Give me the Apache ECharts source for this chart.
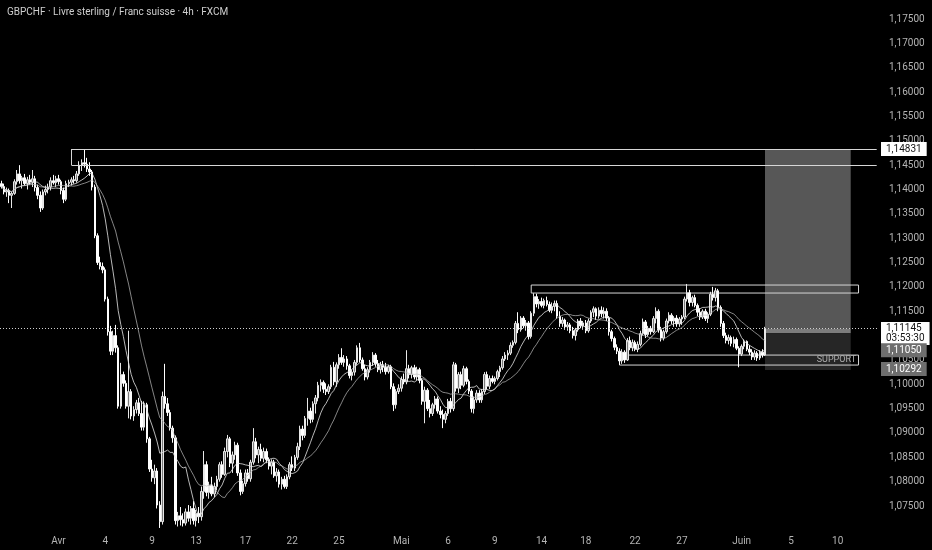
<!DOCTYPE html>
<html>
<head>
<meta charset="utf-8">
<script src="https://cdn.jsdelivr.net/npm/echarts@6/dist/echarts.min.js"></script>
<style>
html,body{margin:0;padding:0;background:#000;}
#chart{width:932px;height:550px;}
</style>
</head>
<body>
<div id="chart"></div>
<script>
// ---- data (GBPCHF 4h) ----
const opens = [
1.1412,1.1406,1.1395,1.1398,1.1388,1.1392,1.1416,1.1432,1.1418,1.1424,
1.1412,1.1420,1.1415,1.1422,1.1404,1.1388,1.1362,1.1395,1.1400,1.1405,
1.1418,1.1414,1.1422,1.1416,1.1398,1.1380,1.1412,1.1415,1.1420,1.1418,
1.1432,1.1450,1.1455,1.1452,1.1442,1.1436,1.1405,1.1305,1.1250,1.1242,
1.1235,1.1175,1.1108,1.1068,1.1100,1.1075,1.0955,1.1020,1.1002,1.0955,
1.0985,1.0935,1.0948,1.0962,1.0940,1.0912,1.0958,1.0888,1.0826,1.0808,
1.0822,1.0752,1.0718,1.0975,1.0960,1.0942,1.0910,1.0890,1.0720,1.0730,
1.0722,1.0715,1.0738,1.0725,1.0745,1.0720,1.0735,1.0728,1.0780,1.0835,
1.0778,1.0792,1.0775,1.0790,1.0805,1.0835,1.0815,1.0862,1.0888,1.0838,
1.0855,1.0875,1.0818,1.0780,1.0796,1.0818,1.0806,1.0840,1.0882,1.0855,
1.0866,1.0848,1.0862,1.0845,1.0832,1.0840,1.0812,1.0820,1.0795,1.0805,
1.0790,1.0810,1.0835,1.0828,1.0850,1.0872,1.0908,1.0895,1.0930,1.0945,
1.0928,1.0960,1.0972,1.0998,1.1004,1.0990,1.0985,1.0995,1.1035,1.1005,
1.1040,1.1055,1.1045,1.1052,1.1038,1.1018,1.1025,1.1045,1.1075,1.1050,
1.1032,1.1015,1.1030,1.1045,1.1060,1.1042,1.1030,1.1040,1.1035,1.1026,
1.1036,1.0995,1.0958,1.0985,1.0992,1.1010,1.1005,1.1032,1.1020,1.1034,
1.1015,1.1030,1.1008,1.0965,1.0988,1.0950,1.0940,1.0958,1.0970,1.0945,
1.0938,1.0928,1.0940,1.0965,1.0950,1.1040,1.0992,1.1020,1.0998,1.1032,
1.1006,1.0986,1.0950,1.0968,1.0982,1.0968,1.0985,1.1020,1.0996,1.1012,
1.1006,1.1012,1.1026,1.1034,1.1052,1.1060,1.1064,1.1080,1.1086,1.1125,
1.1112,1.1136,1.1120,1.1126,1.1098,1.1146,1.1180,1.1165,1.1170,1.1162,
1.1172,1.1164,1.1152,1.1160,1.1166,1.1140,1.1125,1.1132,1.1118,1.1122,
1.1110,1.1100,1.1112,1.1130,1.1120,1.1126,1.1110,1.1130,1.1148,1.1155,
1.1140,1.1152,1.1145,1.1150,1.1136,1.1108,1.1094,1.1076,1.1068,1.1048,
1.1066,1.1050,1.1090,1.1075,1.1086,1.1072,1.1082,1.1104,1.1128,1.1102,
1.1115,1.1108,1.1135,1.1150,1.1112,1.1095,1.1108,1.1130,1.1142,1.1130,
1.1136,1.1124,1.1134,1.1138,1.1175,1.1188,1.1168,1.1178,1.1162,1.1148,
1.1138,1.1150,1.1135,1.1144,1.1185,1.1178,1.1192,1.1158,1.1125,1.1100,
1.1090,1.1096,1.1084,1.1092,1.1074,1.1062,1.1078,1.1088,1.1072,1.1066,
1.1056,1.1064,1.1054,1.1066,1.1060
];
const closes = [
1.1406,1.1395,1.1398,1.1388,1.1392,1.1416,1.1432,1.1418,1.1424,1.1412,
1.1420,1.1415,1.1422,1.1404,1.1388,1.1362,1.1395,1.1400,1.1405,1.1418,
1.1414,1.1422,1.1416,1.1398,1.1380,1.1412,1.1415,1.1420,1.1418,1.1432,
1.1450,1.1455,1.1452,1.1442,1.1436,1.1405,1.1305,1.1250,1.1242,1.1235,
1.1175,1.1108,1.1068,1.1100,1.1075,1.0955,1.1020,1.1002,1.0955,1.0985,
1.0935,1.0948,1.0962,1.0940,1.0912,1.0958,1.0888,1.0826,1.0808,1.0822,
1.0752,1.0718,1.0975,1.0960,1.0942,1.0910,1.0890,1.0720,1.0730,1.0722,
1.0715,1.0738,1.0725,1.0745,1.0720,1.0735,1.0728,1.0780,1.0835,1.0778,
1.0792,1.0775,1.0790,1.0805,1.0835,1.0815,1.0862,1.0888,1.0838,1.0855,
1.0875,1.0818,1.0780,1.0796,1.0818,1.0806,1.0840,1.0882,1.0855,1.0866,
1.0848,1.0862,1.0845,1.0832,1.0840,1.0812,1.0820,1.0795,1.0805,1.0790,
1.0810,1.0835,1.0828,1.0850,1.0872,1.0908,1.0895,1.0930,1.0945,1.0928,
1.0960,1.0972,1.0998,1.1004,1.0990,1.0985,1.0995,1.1035,1.1005,1.1040,
1.1055,1.1045,1.1052,1.1038,1.1018,1.1025,1.1045,1.1075,1.1050,1.1032,
1.1015,1.1030,1.1045,1.1060,1.1042,1.1030,1.1040,1.1035,1.1026,1.1036,
1.0995,1.0958,1.0985,1.0992,1.1010,1.1005,1.1032,1.1020,1.1034,1.1015,
1.1030,1.1008,1.0965,1.0988,1.0950,1.0940,1.0958,1.0970,1.0945,1.0938,
1.0928,1.0940,1.0965,1.0950,1.1040,1.0992,1.1020,1.0998,1.1032,1.1006,
1.0986,1.0950,1.0968,1.0982,1.0968,1.0985,1.1020,1.0996,1.1012,1.1006,
1.1012,1.1026,1.1034,1.1052,1.1060,1.1064,1.1080,1.1086,1.1125,1.1112,
1.1136,1.1120,1.1126,1.1098,1.1146,1.1180,1.1165,1.1170,1.1162,1.1172,
1.1164,1.1152,1.1160,1.1166,1.1140,1.1125,1.1132,1.1118,1.1122,1.1110,
1.1100,1.1112,1.1130,1.1120,1.1126,1.1110,1.1130,1.1148,1.1155,1.1140,
1.1152,1.1145,1.1150,1.1136,1.1108,1.1094,1.1076,1.1068,1.1048,1.1066,
1.1050,1.1090,1.1075,1.1086,1.1072,1.1082,1.1104,1.1128,1.1102,1.1115,
1.1108,1.1135,1.1150,1.1112,1.1095,1.1108,1.1130,1.1142,1.1130,1.1136,
1.1124,1.1134,1.1138,1.1175,1.1188,1.1168,1.1178,1.1162,1.1148,1.1138,
1.1150,1.1135,1.1144,1.1185,1.1178,1.1192,1.1158,1.1125,1.1100,1.1090,
1.1096,1.1084,1.1092,1.1074,1.1062,1.1078,1.1088,1.1072,1.1066,1.1056,
1.1064,1.1054,1.1066,1.1060,1.11145
];
const highs = [
1.1418,1.1412,1.1404,1.1402,1.1395,1.1421,1.1440,1.1450,1.1428,1.1432,
1.1426,1.1430,1.1440,1.1428,1.1410,1.1396,1.1400,1.1408,1.1412,1.1425,
1.1430,1.1428,1.1430,1.1420,1.1404,1.1418,1.1420,1.1425,1.1428,1.1438,
1.1458,1.1462,1.1483,1.1465,1.1456,1.1440,1.1410,1.1310,1.1262,1.1250,
1.1240,1.1180,1.1120,1.1110,1.1122,1.1080,1.1044,1.1026,1.1008,1.1110,
1.0990,1.0955,1.0968,1.0972,1.0966,1.0965,1.0962,1.0892,1.0845,1.0835,
1.0828,1.0760,1.0985,1.1042,1.0972,1.0948,1.0915,1.0895,1.0738,1.0748,
1.0735,1.0745,1.0752,1.0750,1.0760,1.0742,1.0748,1.0790,1.0863,1.0842,
1.0800,1.0810,1.0798,1.0812,1.0840,1.0842,1.0870,1.0896,1.0892,1.0862,
1.0882,1.0880,1.0825,1.0802,1.0825,1.0826,1.0845,1.0910,1.0890,1.0872,
1.0878,1.0870,1.0868,1.0850,1.0846,1.0845,1.0828,1.0825,1.0810,1.0812,
1.0815,1.0840,1.0852,1.0855,1.0880,1.0915,1.0915,1.0935,1.0972,1.0952,
1.0965,1.0978,1.1005,1.1010,1.1008,1.1002,1.1000,1.1040,1.1046,1.1045,
1.1062,1.1074,1.1060,1.1058,1.1042,1.1030,1.1050,1.1080,1.1085,1.1055,
1.1040,1.1035,1.1050,1.1066,1.1064,1.1050,1.1046,1.1048,1.1044,1.1040,
1.1040,1.1002,1.0990,1.1000,1.1016,1.1022,1.1070,1.1040,1.1038,1.1040,
1.1036,1.1034,1.1012,1.0995,1.0992,1.0968,1.0962,1.0976,1.0975,1.0955,
1.0948,1.0945,1.0970,1.0972,1.1046,1.1044,1.1025,1.1026,1.1038,1.1036,
1.1010,1.0990,1.0975,1.0988,1.0988,1.0990,1.1025,1.1026,1.1018,1.1018,
1.1016,1.1030,1.1038,1.1058,1.1066,1.1070,1.1086,1.1090,1.1130,1.1148,
1.1140,1.1140,1.1132,1.1130,1.1150,1.1187,1.1186,1.1175,1.1178,1.1176,
1.1180,1.1170,1.1168,1.1172,1.1172,1.1150,1.1138,1.1135,1.1128,1.1126,
1.1118,1.1116,1.1134,1.1136,1.1130,1.1132,1.1135,1.1152,1.1160,1.1158,
1.1158,1.1160,1.1158,1.1156,1.1140,1.1112,1.1098,1.1082,1.1074,1.1072,
1.1070,1.1095,1.1098,1.1092,1.1090,1.1088,1.1110,1.1135,1.1132,1.1120,
1.1120,1.1140,1.1158,1.1154,1.1118,1.1112,1.1135,1.1148,1.1146,1.1140,
1.1142,1.1138,1.1142,1.1180,1.1206,1.1194,1.1182,1.1184,1.1166,1.1156,
1.1154,1.1155,1.1148,1.1190,1.1200,1.1198,1.1196,1.1162,1.1130,1.1106,
1.1102,1.1100,1.1098,1.1096,1.1078,1.1082,1.1092,1.1090,1.1080,1.1072,
1.1070,1.1068,1.1070,1.1072,1.1118
];
const lows = [
1.1402,1.1390,1.1385,1.1372,1.1362,1.1389,1.1410,1.1412,1.1402,1.1408,
1.1400,1.1410,1.1405,1.1396,1.1380,1.1354,1.1358,1.1388,1.1392,1.1398,
1.1410,1.1405,1.1410,1.1390,1.1372,1.1376,1.1405,1.1408,1.1412,1.1414,
1.1428,1.1438,1.1445,1.1436,1.1428,1.1398,1.1300,1.1245,1.1236,1.1228,
1.1170,1.1100,1.1060,1.1060,1.1065,1.0950,1.0950,1.0995,1.0950,1.0930,
1.0928,1.0925,1.0940,1.0935,1.0905,1.0905,1.0880,1.0820,1.0800,1.0795,
1.0745,1.0705,1.0712,1.0950,1.0935,1.0905,1.0880,1.0712,1.0708,1.0710,
1.0708,1.0710,1.0718,1.0712,1.0712,1.0708,1.0715,1.0720,1.0765,1.0770,
1.0765,1.0770,1.0768,1.0782,1.0800,1.0808,1.0812,1.0850,1.0830,1.0818,
1.0845,1.0812,1.0772,1.0775,1.0790,1.0800,1.0800,1.0835,1.0848,1.0838,
1.0842,1.0840,1.0838,1.0825,1.0815,1.0808,1.0800,1.0788,1.0784,1.0786,
1.0785,1.0805,1.0822,1.0822,1.0845,1.0865,1.0885,1.0890,1.0915,1.0920,
1.0922,1.0940,1.0965,1.0985,1.0982,1.0978,1.0980,1.0990,1.0998,1.0995,
1.1032,1.1040,1.1036,1.1030,1.1012,1.1008,1.1018,1.1040,1.1045,1.1028,
1.1008,1.1010,1.1024,1.1038,1.1036,1.1025,1.1022,1.1025,1.1020,1.1022,
1.0990,1.0945,1.0950,1.0980,1.0985,1.1000,1.1000,1.1012,1.1012,1.1010,
1.1008,1.1002,1.0958,1.0920,1.0945,1.0932,1.0935,1.0950,1.0940,1.0930,
1.0910,1.0920,1.0935,1.0942,1.0945,1.0985,1.0982,1.0990,1.0994,1.1000,
1.0980,1.0942,1.0940,1.0962,1.0962,1.0962,1.0980,1.0990,1.0990,1.1002,
1.1000,1.1008,1.1015,1.1030,1.1048,1.1050,1.1060,1.1075,1.1082,1.1105,
1.1108,1.1115,1.1110,1.1092,1.1094,1.1140,1.1158,1.1155,1.1158,1.1156,
1.1160,1.1148,1.1146,1.1150,1.1135,1.1118,1.1118,1.1112,1.1110,1.1105,
1.1094,1.1090,1.1108,1.1115,1.1112,1.1105,1.1106,1.1126,1.1138,1.1132,
1.1135,1.1138,1.1135,1.1130,1.1100,1.1088,1.1070,1.1062,1.1040,1.1042,
1.1044,1.1048,1.1070,1.1068,1.1068,1.1066,1.1078,1.1100,1.1095,1.1098,
1.1102,1.1105,1.1125,1.1106,1.1088,1.1090,1.1104,1.1125,1.1124,1.1118,
1.1118,1.1118,1.1122,1.1134,1.1170,1.1160,1.1160,1.1158,1.1140,1.1132,
1.1134,1.1130,1.1126,1.1140,1.1172,1.1170,1.1150,1.1118,1.1095,1.1084,
1.1082,1.1078,1.1076,1.1070,1.1035,1.1058,1.1072,1.1068,1.1060,1.1050,
1.1050,1.1048,1.1050,1.1055,1.1058
];
// time-axis tick labels and their bar positions
const timeTickBars = [22, 40, 58, 75, 94, 112, 130, 154, 172, 190, 208, 225, 244, 262, 285, 304, 322];
const timeTickLabels = ['Avr','4','9','13','17','22','25','Mai','6','9','14','18','22','27','Juin','5','10'];
const barSlots = 338; // bars plus empty future space
// drawing levels
const boxTop = [1.14831, 1.14502];      // upper supply zone
const boxResistance = [1.12038, 1.11874];
const boxSupport = [1.10600, 1.10395];
const targetPrice = 1.14831;
const entryPrice = 1.11050;
const stopPrice = 1.10292;
const lastPrice = 1.11145;
const countdown = '03:53:30';
const maPeriods = [10, 20];

// ---- build ----
const categories = [];
for (let i = 0; i < barSlots; i++) categories.push(String(i));
const ohlc = opens.map((o, i) => [o, closes[i], lows[i], highs[i]]);
function sma(n) {
  const out = [];
  for (let i = 0; i < closes.length; i++) {
    const s = Math.max(0, i - n + 1);
    let sum = 0;
    for (let j = s; j <= i; j++) sum += closes[j];
    out.push(+(sum / (i - s + 1)).toFixed(5));
  }
  return out;
}
const fmt = v => v.toFixed(5).replace('.', ',');
const lastBar = String(closes.length - 1);
const endSlot = String(barSlots - 1);
const FONT = 'Roboto, "Noto Sans", sans-serif';
const BOX = '#d6d6d6';

const chart = echarts.init(document.getElementById('chart'), null, {renderer: 'canvas'});
const priceTag = (price, text, bg, fg, dy) => ({
  yAxis: price, lineStyle: {color: 'rgba(0,0,0,0)', width: 0},
  label: {show: true, position: 'end', distance: 3, formatter: text, backgroundColor: bg, color: fg,
          fontSize: 10, fontFamily: FONT, padding: [2, 5, 1, 5], lineHeight: 11, offset: [0, dy]}
});
const seg = (x1, y1, x2, y2) => [
  {coord: [x1, y1], lineStyle: {color: BOX, width: 1, type: 'solid'}, label: {show: false}},
  {coord: [x2, y2]}
];

chart.setOption({
  animation: false,
  backgroundColor: '#000000',
  grid: {left: 0, right: 54, top: 0, bottom: 19.6},
  xAxis: {
    type: 'category', data: categories, boundaryGap: true,
    axisLine: {show: false}, axisTick: {show: false}, splitLine: {show: false},
    axisLabel: {
      interval: (idx) => timeTickBars.indexOf(idx) >= 0,
      formatter: (v, idx) => { const k = timeTickBars.indexOf(idx); return k >= 0 ? timeTickLabels[k] : ''; },
      color: '#b4b4b4', fontSize: 10, fontFamily: FONT, margin: 6, hideOverlap: false
    }
  },
  yAxis: {
    type: 'value', position: 'right', min: 1.07, max: 1.17891, interval: 0.005, scale: true,
    axisLine: {show: false}, axisTick: {show: false}, splitLine: {show: false},
    axisLabel: {formatter: fmt, color: '#b4b4b4', fontSize: 10, fontFamily: FONT, margin: 11, align: 'left',
                showMinLabel: false, showMaxLabel: false}
  },
  graphic: [{
    type: 'text', left: 7, top: 7, z: 100,
    style: {text: 'GBPCHF · Livre sterling / Franc suisse · 4h · FXCM', fill: '#cfcfcf', fontSize: 10, fontFamily: FONT}
  }],
  series: [
    {
      type: 'line', name: 'MA' + maPeriods[0], data: sma(maPeriods[0]), showSymbol: false, z: 4,
      lineStyle: {width: 1, color: 'rgba(230,230,230,0.8)'}, silent: true
    },
    {
      type: 'line', name: 'MA' + maPeriods[1], data: sma(maPeriods[1]), showSymbol: false, z: 4,
      lineStyle: {width: 1, color: 'rgba(190,190,190,0.7)'}, silent: true
    },
    {
      type: 'candlestick', name: 'GBPCHF', data: ohlc, barWidth: 2, z: 3,
      itemStyle: {color: '#7a7a7a', color0: '#ffffff', borderColor: '#e8e8e8', borderColor0: '#ffffff', borderWidth: 1},
      markArea: {
        silent: true,
        data: [
          [{xAxis: lastBar, yAxis: targetPrice, itemStyle: {color: '#575757'}}, {xAxis: '327', yAxis: lastPrice}],
          [{xAxis: lastBar, yAxis: lastPrice, itemStyle: {color: '#7c7c7c'}}, {xAxis: '327', yAxis: entryPrice}],
          [{xAxis: lastBar, yAxis: entryPrice, itemStyle: {color: '#262626'}}, {xAxis: '327', yAxis: stopPrice}],
          [{xAxis: '204', yAxis: boxResistance[0], itemStyle: {color: 'rgba(0,0,0,0)', borderColor: BOX, borderWidth: 1}},
           {xAxis: '330', yAxis: boxResistance[1]}],
          [{xAxis: '238', yAxis: boxSupport[0], name: 'SUPPORT',
            itemStyle: {color: 'rgba(0,0,0,0)', borderColor: BOX, borderWidth: 1},
            label: {show: true, position: 'insideRight', distance: 3, color: '#b0b0b0', fontSize: 9, fontFamily: FONT, formatter: 'SUPPORT'}},
           {xAxis: '330', yAxis: boxSupport[1]}]
        ]
      },
      markLine: {
        silent: true, symbol: 'none', animation: false, precision: 5,
        data: [
          seg('27', boxTop[0], endSlot, boxTop[0]),
          seg('27', boxTop[1], endSlot, boxTop[1]),
          seg('27', boxTop[0], '27', boxTop[1]),
          {yAxis: lastPrice, lineStyle: {type: [1, 2], color: '#d0d0d0', width: 1},
           label: {show: true, position: 'end', distance: 3, formatter: fmt(lastPrice) + '\n' + countdown,
                   backgroundColor: '#ffffff', color: '#131313', fontSize: 10, fontFamily: FONT,
                   padding: [2, 5, 1, 5], lineHeight: 10, offset: [0, 5]}},
          priceTag(targetPrice, fmt(targetPrice), '#ffffff', '#131313', 0),
          priceTag(entryPrice, fmt(entryPrice), '#6e6e6e', '#ffffff', 17),
          priceTag(stopPrice, fmt(stopPrice), '#6e6e6e', '#ffffff', -1)
        ]
      }
    }
  ]
});
</script>
</body>
</html>
